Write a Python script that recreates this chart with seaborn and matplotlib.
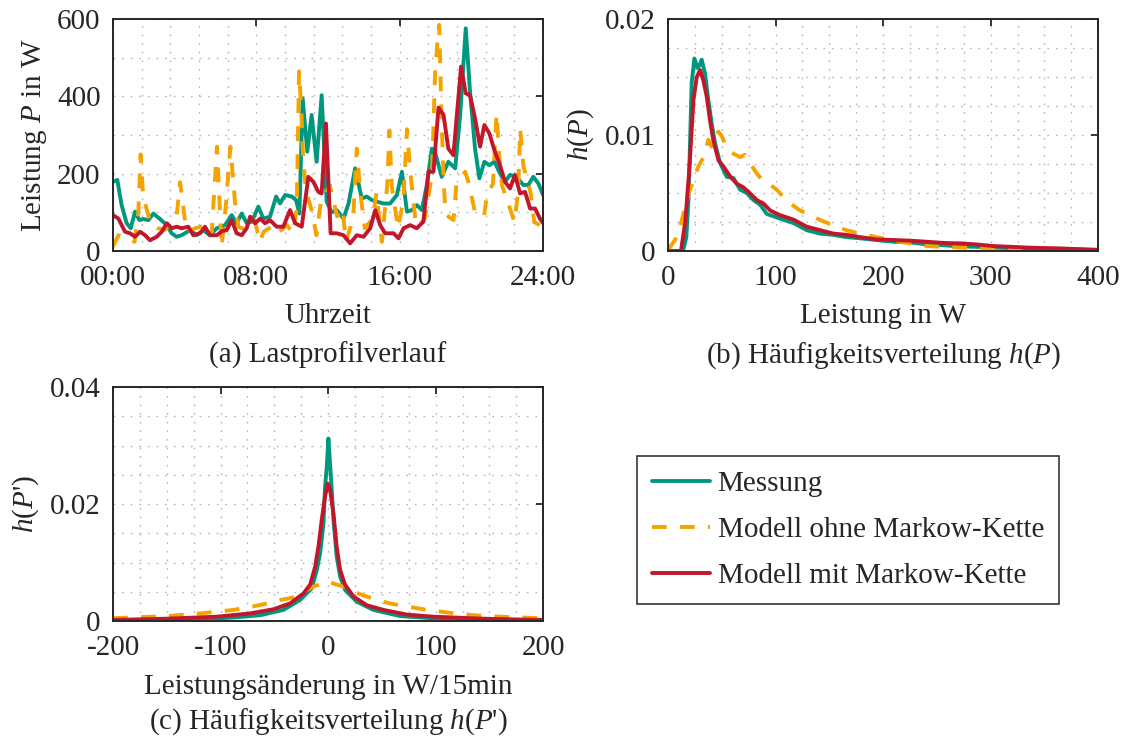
import numpy as np
import pandas as pd
import seaborn as sns
import matplotlib.pyplot as plt
from matplotlib.ticker import MultipleLocator

# --- Daten ---
# (a) Lastprofilverlauf: Uhrzeit in h, Leistung in W
t_mess = [0.0, 0.24, 0.48, 0.76, 0.99, 1.23, 1.47, 1.69, 1.97, 2.25, 2.62, 3.0, 3.27, 3.55, 3.83,
          4.3, 4.67, 5.04, 5.41, 5.79, 6.25, 6.62, 6.9, 7.18, 7.46, 7.74, 8.11, 8.39, 8.76, 9.1,
          9.32, 9.6, 9.97, 10.21, 10.4, 10.58, 10.84, 11.08, 11.36, 11.64, 11.92, 12.2, 12.48,
          12.86, 13.14, 13.51, 13.88, 14.16, 14.44, 14.72, 15.09, 15.46, 15.84, 16.12, 16.4,
          16.67, 16.95, 17.23, 17.51, 17.79, 18.0, 18.34, 18.71, 19.09, 19.37, 19.68, 19.92,
          20.2, 20.44, 20.72, 21.0, 21.28, 21.59, 21.87, 22.15, 22.52, 22.89, 23.17, 23.45,
          23.73, 24.0]
p_mess = [179, 184, 119, 72, 59, 102, 80, 83, 80, 97, 83, 67, 46, 37, 41,
          54, 41, 54, 41, 59, 67, 93, 72, 97, 72, 76, 115, 84, 89, 141,
          123, 145, 141, 132, 97, 395, 257, 352, 231, 403, 128, 100, 106,
          84, 123, 214, 136, 141, 132, 128, 123, 123, 145, 205, 102,
          106, 119, 106, 171, 265, 250, 192, 231, 214, 352, 576, 412,
          265, 188, 231, 222, 231, 201, 179, 197, 192, 171, 171, 192,
          175, 145]

t_ohne = [0.0, 0.3, 0.6, 0.9, 1.2, 1.41, 1.54, 1.66, 1.79, 2.1, 2.5, 2.9, 3.2, 3.55, 3.74, 3.85,
          4.1, 4.6, 5.2, 5.5, 5.8, 6.06, 6.3, 6.55, 6.8, 7.0, 7.2, 7.6, 7.9, 8.2, 8.4, 9.0, 9.3,
          9.7, 10.05, 10.25, 10.38, 10.5, 10.6, 10.75, 11.1, 11.35, 11.6, 12.1, 12.5, 12.8, 13.0,
          13.4, 13.6, 13.8, 14.05, 14.5, 14.7, 15.0, 15.3, 15.42, 15.55, 15.9, 16.2, 16.4, 16.6,
          16.9, 17.1, 17.4, 17.8, 17.97, 18.1, 18.2, 18.34, 18.45, 18.55, 19.0, 19.15, 19.65,
          19.85, 20.2, 20.7, 20.85, 21.2, 21.4, 21.55, 21.7, 22.15, 22.4, 22.6, 22.72, 22.9,
          23.3, 23.5, 23.7, 24.0]
p_ohne = [11, 41, 35, 30, 24, 97, 250, 158, 123, 70, 59, 55, 70, 89, 178, 140,
          50, 59, 67, 41, 270, 11, 120, 270, 130, 62, 59, 59, 80, 24, 50, 67, 50,
          67, 46, 110, 465, 370, 250, 160, 102, 41, 128, 170, 90, 110, 24,
          85, 265, 150, 59, 85, 150, 24, 170, 312, 170, 59, 130, 315, 200,
          67, 67, 85, 200, 460, 540, 585, 330, 180, 95, 80, 170, 205,
          175, 100, 90, 140, 175, 355, 250, 170, 110, 75, 150, 315, 220,
          150, 75, 70, 60]

t_mit = [0.0, 0.3, 0.67, 0.95, 1.23, 1.51, 1.79, 2.06, 2.44, 2.72, 3.0, 3.27, 3.55, 3.83, 4.2,
         4.48, 4.86, 5.13, 5.41, 5.79, 6.1, 6.34, 6.62, 6.9, 7.18, 7.46, 7.65, 7.93, 8.21, 8.48,
         8.76, 9.13, 9.5, 9.88, 10.16, 10.53, 10.9, 11.18, 11.46, 11.64, 11.88, 12.14, 12.48,
         12.86, 13.23, 13.6, 13.98, 14.35, 14.63, 14.91, 15.18, 15.65, 15.93, 16.21, 16.58,
         16.95, 17.32, 17.6, 17.88, 18.16, 18.44, 18.71, 18.99, 19.42, 19.68, 19.92, 20.2,
         20.48, 20.72, 21.0, 21.28, 21.59, 21.87, 22.15, 22.43, 22.71, 22.99, 23.27, 23.55,
         23.82, 24.0]
p_mit = [93, 84, 50, 46, 37, 50, 41, 28, 37, 50, 72, 59, 63, 59, 63,
         41, 46, 63, 41, 41, 52, 54, 80, 46, 41, 59, 89, 72, 84, 72,
         80, 63, 63, 106, 72, 63, 192, 179, 153, 149, 330, 46, 46,
         41, 20, 41, 37, 59, 106, 67, 46, 46, 33, 59, 67,
         59, 76, 205, 205, 371, 352, 265, 248, 477, 408, 403, 343,
         270, 326, 304, 261, 222, 179, 162, 197, 149, 153, 110, 110,
         84, 72]

# (b) Häufigkeitsverteilung h(P)
w_mess = [0, 14, 17, 19, 22, 24.5, 27.3, 29.2, 31.3, 34.4, 37.5, 40.6, 43.7, 48.4, 54.6, 60.8,
          67, 73.2, 79.4, 85.6, 91.8, 98, 104, 117, 129, 141.5, 154, 166, 178.6, 194, 210,
          225, 241, 256, 272, 287, 303, 318, 334, 349, 365, 380, 400]
h_mess = [0, 0, 0.0012, 0.0044, 0.0145, 0.0166, 0.0158, 0.016, 0.0165, 0.0153, 0.013, 0.011,
          0.0093, 0.0076, 0.0064, 0.0063, 0.0053, 0.005, 0.0044, 0.004, 0.0032, 0.003, 0.0028,
          0.0024, 0.0018, 0.0015, 0.0014, 0.0012, 0.0011, 0.00095, 0.0008, 0.00075, 0.00057,
          0.0005, 0.0004, 0.00037, 0.0003, 0.00026, 0.00023, 0.0002, 0.00017, 0.00014, 0.0001]

w_ohne = [0, 6.5, 11.2, 16, 20.5, 23.6, 28.3, 33, 37.5, 40.6, 43.7, 46.8, 50, 54.6, 60.8, 67,
          71.6, 76, 82.5, 88.7, 95, 101, 107, 113.6, 122.8, 132, 141, 154, 166, 178.6, 194,
          210, 225, 241, 256, 272, 287, 303, 318, 334, 365, 400]
h_ohne = [0.0001, 0.00095, 0.0021, 0.0038, 0.0053, 0.0061, 0.0073, 0.0081, 0.0096, 0.009,
          0.0096, 0.0103, 0.0099, 0.0089, 0.0084, 0.0081, 0.0083, 0.0076, 0.0067, 0.006, 0.0057,
          0.0053, 0.0047, 0.0041, 0.0035, 0.0031, 0.0027, 0.0022, 0.0018, 0.0015, 0.0012,
          0.0009, 0.00066, 0.00043, 0.00037, 0.0003, 0.00026, 0.00023, 0.0002, 0.00017,
          0.00014, 0.0001]

w_mit = [0, 12, 16, 20, 23.6, 26.7, 29.8, 32.9, 36, 39, 42, 47, 51.5, 58, 64, 70, 76, 82.5,
         88.7, 95, 104, 117, 129, 141.5, 154, 166, 178.6, 194, 210, 225, 241, 256, 272, 287,
         303, 318, 334, 349, 365, 380, 400]
h_mit = [0, 0, 0.0025, 0.0073, 0.013, 0.015, 0.0156, 0.0147, 0.0133, 0.0113, 0.0096, 0.0078,
         0.0073, 0.0064, 0.0058, 0.0055, 0.005, 0.0044, 0.0041, 0.0035, 0.0031, 0.0027, 0.0021,
         0.0018, 0.0015, 0.0014, 0.0012, 0.001, 0.00095, 0.0009, 0.0008, 0.0007, 0.00066,
         0.00057, 0.00043, 0.00037, 0.0003, 0.00026, 0.00023, 0.00017, 0.0001]

# (c) Häufigkeitsverteilung h(P')
d_mess = [-200, -181, -150, -119, -88, -63, -41.6, -26, -15.2, -10.5, -7.4, -4.3, -2.8, -1.2,
          0.3, 1.9, 3.4, 5, 8, 11.2, 15.8, 26.7, 42.2, 67, 98, 129, 160, 200]
hd_mess = [0.00017, 0.0002, 0.00025, 0.0003, 0.0006, 0.001, 0.0019, 0.0036, 0.0056, 0.0087,
           0.0116, 0.0167, 0.023, 0.0264, 0.0312, 0.0267, 0.0224, 0.0173, 0.011, 0.0076,
           0.0053, 0.0033, 0.0019, 0.00085, 0.00046, 0.0003, 0.0002, 0.00017]

d_ohne = [-200, -181, -150, -119, -103.6, -88, -69.5, -57, -44.7, -35.4, -26, -19.8, -13.6, 0.3,
          5, 14.3, 23.6, 32.9, 45.3, 57.7, 73.2, 91.8, 113.5, 135.2, 160, 200]
hd_ohne = [0.0005, 0.0006, 0.00085, 0.0013, 0.0016, 0.0019, 0.0025, 0.003, 0.0036, 0.0039,
           0.0044, 0.0053, 0.0059, 0.0068, 0.0064, 0.0059, 0.005, 0.0044, 0.0036, 0.003,
           0.0025, 0.0019, 0.0014, 0.001, 0.00074, 0.00046]

d_mit = [-200, -150, -103.6, -72.6, -51, -35.4, -23, -16.7, -12, -9, -5.9, -2.8, -0.3, 1.9, 5,
         8, 11.2, 15.8, 23.6, 36, 51.5, 73.2, 98, 144.5, 200]
hd_mit = [0.00017, 0.0004, 0.00074, 0.0013, 0.002, 0.003, 0.0047, 0.0062, 0.0093, 0.0127,
          0.0173, 0.0213, 0.0235, 0.0224, 0.0184, 0.0127, 0.0087, 0.0062, 0.0042, 0.0027,
          0.0019, 0.0011, 0.00074, 0.0004, 0.00017]

labels = ["Messung", "Modell ohne Markow-Kette", "Modell mit Markow-Kette"]
farben = ["#00977F", "#F5A300", "#C2172B"]

# --- Stil ---
FS = 21
sns.set_theme(style="white")
plt.rcParams["font.family"] = ["Liberation Serif", "DejaVu Serif"]
plt.rcParams["mathtext.fontset"] = "custom"
plt.rcParams["mathtext.rm"] = "Liberation Serif"
plt.rcParams["mathtext.it"] = "Liberation Serif:italic"
plt.rcParams["font.size"] = FS
plt.rcParams["axes.labelsize"] = FS
plt.rcParams["legend.fontsize"] = FS
plt.rcParams["text.color"] = "#262626"
plt.rcParams["axes.labelcolor"] = "#262626"

LW = 2.8
STRICHE = (0, (3.8, 3.4))

fig = plt.figure(figsize=(11.29, 7.45), dpi=100)
ax_a = fig.add_axes([0.1001, 0.663, 0.381, 0.3114])
ax_b = fig.add_axes([0.5917, 0.663, 0.381, 0.3114])
ax_c = fig.add_axes([0.1001, 0.1664, 0.381, 0.3141])


def zeichne(ax, reihen):
    for (x, y), farbe, name in zip(reihen, farben, labels):
        ls = STRICHE if name == labels[1] else "-"
        sns.lineplot(x=x, y=y, ax=ax, color=farbe, linewidth=LW, linestyle=ls,
                     label=name, legend=False)


def gestalte(ax, xmin, ymin):
    ax.xaxis.set_minor_locator(MultipleLocator(xmin))
    ax.yaxis.set_minor_locator(MultipleLocator(ymin))
    ax.grid(which="both", color="#b5b5b5", linestyle=(0, (1.2, 5)), linewidth=1.0)
    ax.set_axisbelow(True)
    ax.tick_params(which="both", direction="in", top=True, right=True,
                   labelsize=FS, labelcolor="#262626")
    ax.tick_params(which="major", length=5, width=1.3, color="#262626")
    ax.tick_params(axis="y", which="major", pad=9)
    ax.tick_params(axis="x", which="major", pad=10)
    ax.tick_params(which="minor", length=0)
    for sp in ax.spines.values():
        sp.set_linewidth(1.4)
        sp.set_color("#262626")


# (a)
zeichne(ax_a, [(t_mess, p_mess), (t_ohne, p_ohne), (t_mit, p_mit)])
ax_a.set_xlim(0, 24)
ax_a.set_ylim(0, 600)
ax_a.set_xticks([0, 8, 16, 24], ["00:00", "08:00", "16:00", "24:00"])
ax_a.set_yticks([0, 200, 400, 600], ["0", "200", "400", "600"])
gestalte(ax_a, 1.6, 100)
ax_a.set_xlabel("Uhrzeit")
ax_a.xaxis.set_label_coords(0.5, -0.225)
ax_a.set_ylabel("Leistung $P$ in W", labelpad=6)
ax_a.text(0.5, -0.45, "(a) Lastprofilverlauf", transform=ax_a.transAxes,
          ha="center", va="center")

# (b)
zeichne(ax_b, [(w_mess, h_mess), (w_ohne, h_ohne), (w_mit, h_mit)])
ax_b.set_xlim(0, 400)
ax_b.set_ylim(0, 0.02)
ax_b.set_xticks([0, 100, 200, 300, 400], ["0", "100", "200", "300", "400"])
ax_b.set_yticks([0, 0.01, 0.02], ["0", "0.01", "0.02"])
gestalte(ax_b, 25, 0.0025)
ax_b.set_xlabel("Leistung in W")
ax_b.xaxis.set_label_coords(0.5, -0.225)
ax_b.set_ylabel("$h$($P$)", labelpad=6)
ax_b.text(0.5, -0.45, "(b) Häufigkeitsverteilung $h$($P$)", transform=ax_b.transAxes,
          ha="center", va="center")

# (c)
zeichne(ax_c, [(d_mess, hd_mess), (d_ohne, hd_ohne), (d_mit, hd_mit)])
ax_c.set_xlim(-200, 200)
ax_c.set_ylim(0, 0.04)
ax_c.set_xticks([-200, -100, 0, 100, 200], ["-200", "-100", "0", "100", "200"])
ax_c.set_yticks([0, 0.02, 0.04], ["0", "0.02", "0.04"])
gestalte(ax_c, 25, 0.005)
ax_c.set_xlabel("Leistungsänderung in W/15min")
ax_c.xaxis.set_label_coords(0.5, -0.225)
ax_c.set_ylabel("$h$($P$')", labelpad=6)
ax_c.text(0.5, -0.43, "(c) Häufigkeitsverteilung $h$($P$')", transform=ax_c.transAxes,
          ha="center", va="center")

# Legende
handles, _ = ax_a.get_legend_handles_labels()
leg = fig.legend(handles, labels, loc="center", bbox_to_anchor=(0.7511, 0.2886),
                 frameon=True, fancybox=False, handlelength=2.0,
                 handletextpad=0.25, labelspacing=0.68, borderpad=0.5, borderaxespad=0)
leg.get_frame().set_edgecolor("#262626")
leg.get_frame().set_linewidth(1.1)
leg.get_frame().set_alpha(1)

fig.savefig("out.png", dpi=100)
